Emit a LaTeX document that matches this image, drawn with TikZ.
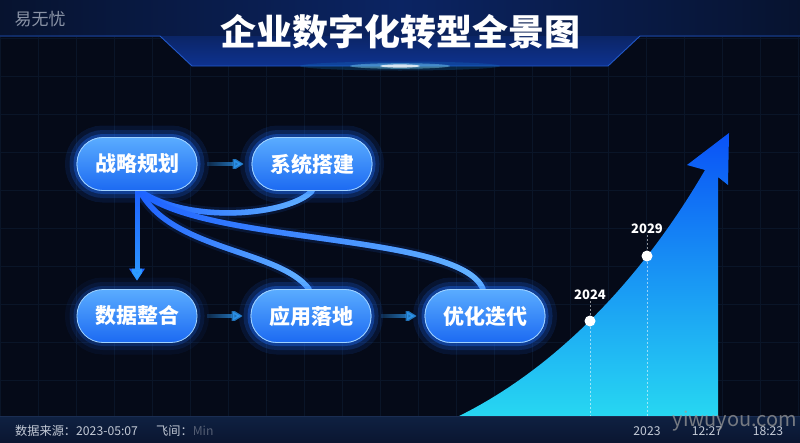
\documentclass[tikz,border=0pt]{standalone}
\usepackage{fontspec}
\setmainfont{Noto Sans CJK SC}
\usetikzlibrary{arrows.meta,fadings}
\definecolor{bg}{HTML}{050A18}
\definecolor{gridc}{HTML}{0A1528}
\definecolor{hdrdark}{HTML}{07132F}
\definecolor{hdrmid}{HTML}{0B2463}
\definecolor{trtop}{HTML}{0B2566}
\definecolor{trbot}{HTML}{0E3290}
\definecolor{hdrline}{HTML}{2258C8}
\definecolor{pilltop}{HTML}{5AACFF}
\definecolor{pillbot}{HTML}{1C6AF2}
\definecolor{pilledge}{HTML}{9FD2FF}
\definecolor{glowc}{HTML}{1F6FFF}
\definecolor{curvebase}{HTML}{1E62FF}
\definecolor{curvelight}{HTML}{66B6FF}
\definecolor{flowc}{HTML}{2FA0FF}
\definecolor{chtop}{HTML}{0A52F6}
\definecolor{chmid}{HTML}{1A8AF2}
\definecolor{chbot}{HTML}{27D8F2}
\definecolor{bartop}{HTML}{0F2142}
\definecolor{barbot}{HTML}{0A1631}
\definecolor{barline}{HTML}{1A2D52}
\definecolor{bartext}{HTML}{C3CAD6}
\definecolor{logoc}{HTML}{8A93A6}
\tikzfading[name=fadeleft, left color=transparent!100, right color=transparent!0]
\tikzfading[name=fadetop, top color=transparent!100, bottom color=transparent!0]
\begin{document}
\begin{tikzpicture}[x=1pt,y=-1pt,
  pill/.style={rounded corners=26pt, minimum width=120pt, minimum height=53pt, inner sep=0pt,
    top color=pilltop, bottom color=pillbot, draw=pilledge, line width=0.8pt,
    text=white, font=\fontsize{21}{21}\selectfont\bfseries,
    preaction={draw=glowc, line width=24pt, draw opacity=0.06},
    preaction={draw=glowc, line width=15pt, draw opacity=0.10},
    preaction={draw=glowc, line width=7pt, draw opacity=0.20}},
  flow/.style={line width=4pt, draw=flowc, -{Triangle[length=11pt,width=13pt]},
    shorten <=10pt, shorten >=8pt, path fading=fadeleft},
  curvebg/.style={line width=11pt, draw=glowc, draw opacity=0.12},
  curvemain/.style={line width=5.5pt, draw=curvebase, line cap=round},
  curvetop/.style={line width=5.5pt, draw=curvelight, line cap=round, path fading=fadeleft},
  yr/.style={text=white, font=\fontsize{13}{13}\selectfont\bfseries, inner sep=1pt},
  dotc/.style={circle, fill=white, minimum size=11pt, inner sep=0pt},
  dashv/.style={draw=white, draw opacity=0.55, line width=0.6pt, dash pattern=on 2pt off 2pt},
  bartxt/.style={text=bartext, font=\fontsize{12.2}{12.2}\selectfont, inner sep=0pt}
]
\useasboundingbox (0,0) rectangle (800,442);
% background
\fill[bg] (0,0) rectangle (800,442);
\draw[gridc, line width=0.6pt, step=38pt] (0,0) grid (800,442);
% header
\shade[left color=hdrdark, right color=hdrdark, middle color=hdrmid] (0,0) rectangle (800,36);
\shade[top color=trtop, bottom color=trbot] (160,36) -- (192,66) -- (608,66) -- (640,36) -- cycle;
\draw[hdrline, line width=0.9pt] (0,36) -- (160,36) -- (192,66) -- (608,66) -- (640,36) -- (800,36);
\fill[cyan!60!blue, opacity=0.25] (400,66) ellipse (100 and 4.5);
\fill[cyan!50!white, opacity=0.45] (400,66) ellipse (50 and 2.8);
\fill[white, opacity=0.8] (400,66) ellipse (20 and 1.6);
\node[text=logoc, font=\fontsize{17}{17}\selectfont, inner sep=0pt] (logo) at (40,19) {易无忧};
\node[text=white, font=\fontsize{36}{36}\selectfont\bfseries, inner sep=0pt] (title) at (400,32) {企业数字化转型全景图};
% growth chart
\shade[top color=chtop, middle color=chmid, bottom color=chbot]
  (455,418) .. controls (565,365) and (650,265) .. (705,170) -- (687,165) -- (729,133)
  -- (728,185) -- (718,177) -- (718,418) -- cycle;
\node[dotc] (d24) at (590,321) {};
\node[dotc] (d29) at (647,256) {};
\node[yr] (l24) at (590,295) {2024};
\node[yr] (l29) at (647,229) {2029};
\coordinate (b24) at (590,418);
\coordinate (b29) at (647,418);
\draw[dashv] (l24.south) -- (d24);
\draw[dashv] (l29.south) -- (d29);
\draw[dashv] (d24) -- (b24);
\draw[dashv] (d29) -- (b29);
% connector curves
\coordinate (zls) at (140,191);
\draw[curvebg] (zls) .. controls (190,225) and (290,215) .. (312,191);
\draw[curvebg] (zls) .. controls (170,250) and (280,250) .. (310,290);
\draw[curvebg] (zls) .. controls (200,245) and (460,232) .. (484,290);
\node[pill] (zl) at (137,164) {战略规划};
\node[pill] (xt) at (312,164) {系统搭建};
\node[pill] (sj) at (137,316) {数据整合};
\node[pill] (yy) at (311,316) {应用落地};
\node[pill] (yh) at (485,316) {优化迭代};
\draw[curvemain] (zls) .. controls (190,225) and (290,215) .. (xt.south);
\draw[curvetop] (zls) .. controls (190,225) and (290,215) .. (xt.south);
\draw[curvemain] (zls) .. controls (170,250) and (280,250) .. ([xshift=-2pt]yy.north);
\draw[curvetop] (zls) .. controls (170,250) and (280,250) .. ([xshift=-2pt]yy.north);
\draw[curvemain] (zls) .. controls (200,245) and (460,232) .. ([xshift=-2pt]yh.north);
\draw[curvetop] (zls) .. controls (200,245) and (460,232) .. ([xshift=-2pt]yh.north);
% redraw nodes on top of curve ends
\node[pill] at (312,164) {系统搭建};
\node[pill] at (311,316) {应用落地};
\node[pill] at (485,316) {优化迭代};
\node[pill] at (137,164) {战略规划};
% straight arrows
\draw[flow] (zl.east) -- (xt.west);
\draw[flow] (sj.east) -- (yy.west);
\draw[flow] (yy.east) -- (yh.west);
\draw[line width=5pt, draw=curvebase, -{Triangle[length=12pt,width=15pt]}, shorten >=8.5pt] (zl.south) -- (sj.north);
\draw[line width=5pt, draw=flowc, -{Triangle[length=12pt,width=15pt]}, shorten >=8.5pt, path fading=fadetop] (zl.south) -- (sj.north);
% bottom bar
\shade[top color=bartop, bottom color=barbot] (0,416) rectangle (800,442);
\draw[barline, line width=0.6pt] (0,416) -- (800,416);
\node[bartxt, anchor=west] (src) at (15,431) {数据来源：2023-05:07};
\node[bartxt, anchor=west] (fj) at (156,431) {飞间：\textcolor{bartext!40!barbot}{Min}};
\node[bartxt] (y23) at (647,431) {2023};
\node[bartxt] (t1) at (707,431) {12:27};
\node[bartxt] (t2) at (768,431) {18:23};
\node[text=gray!80!white, opacity=0.75, font=\fontsize{20}{20}\selectfont, inner sep=0pt] (wm) at (735,421) {yiwuyou.com};
\end{tikzpicture}
\end{document}
